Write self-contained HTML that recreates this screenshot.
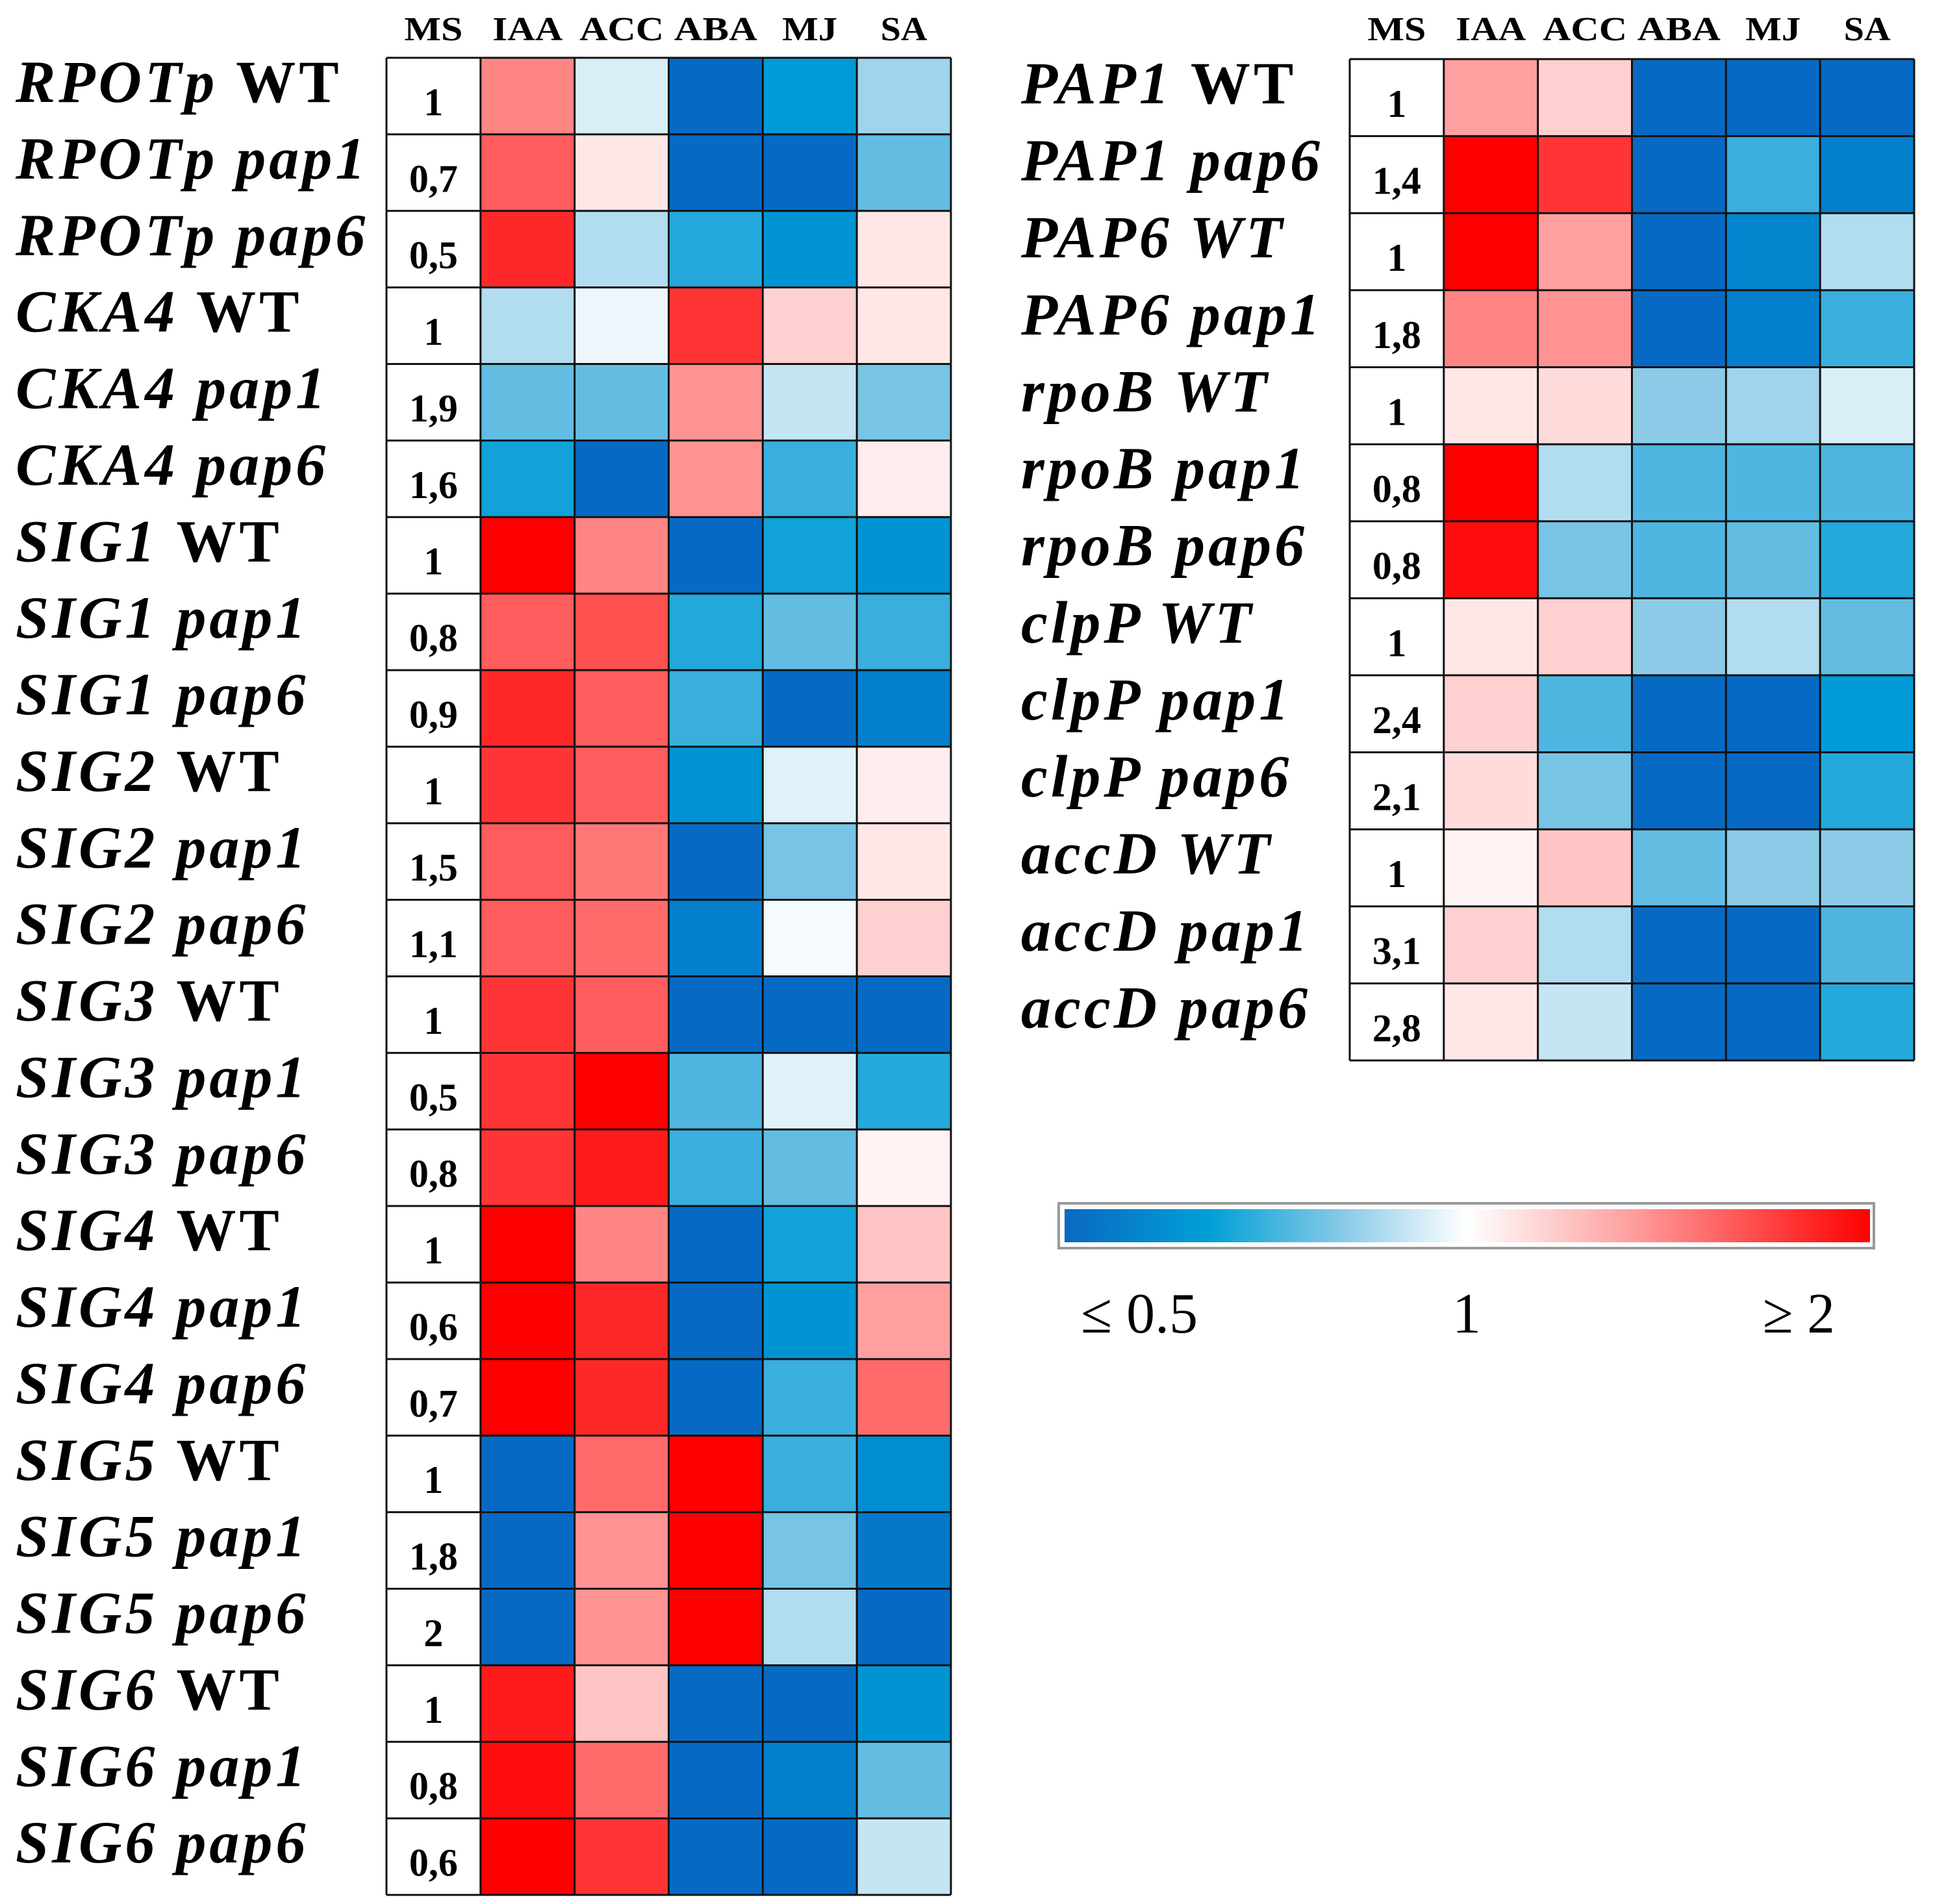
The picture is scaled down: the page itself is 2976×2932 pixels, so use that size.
<!DOCTYPE html>
<html><head><meta charset="utf-8"><style>
html,body{margin:0;padding:0;background:#fff;}
svg{display:block;}
.lab{font-family:"Liberation Serif",serif;font-weight:bold;font-size:92px;letter-spacing:5px;}
.hdr{font-family:"Liberation Serif",serif;font-weight:bold;font-size:52px;}
.ms{font-family:"Liberation Serif",serif;font-weight:bold;font-size:60px;}
.cb{font-family:"Liberation Serif",serif;font-size:88px;}
</style></head><body>
<svg id="chart" width="2976" height="2932" viewBox="0 0 2976 2932" xmlns="http://www.w3.org/2000/svg">
<defs>
<linearGradient id="cbgrad" x1="0" x2="1" y1="0" y2="0">
<stop offset="0" stop-color="#0a68c2"/>
<stop offset="0.18" stop-color="#00a0d6"/>
<stop offset="0.35" stop-color="#8ccbe8"/>
<stop offset="0.5" stop-color="#ffffff"/>
<stop offset="0.7" stop-color="#ffa0a0"/>
<stop offset="1" stop-color="#ff0000"/>
</linearGradient>
</defs>
<g id="g-left"></g>
<g id="g-right"></g>
<g id="colorbar">
<rect x="1630" y="1853" width="1255" height="69" fill="#fff" stroke="#999" stroke-width="4"/>
<rect x="1639" y="1862" width="1240" height="51" fill="url(#cbgrad)"/>
<text class="cb" x="1664" y="2052" textLength="180" lengthAdjust="spacingAndGlyphs">≤ 0.5</text>
<text class="cb" x="2258" y="2052" text-anchor="middle">1</text>
<text class="cb" x="2714" y="2052" textLength="111" lengthAdjust="spacingAndGlyphs">≥ 2</text>
</g>
</svg>
<script>
const columns = ["MS","IAA","ACC","ABA","MJ","SA"];
// left panel
const leftGenes = ["RPOTp","RPOTp","RPOTp","CKA4","CKA4","CKA4","SIG1","SIG1","SIG1","SIG2","SIG2","SIG2","SIG3","SIG3","SIG3","SIG4","SIG4","SIG4","SIG5","SIG5","SIG5","SIG6","SIG6","SIG6"];
const leftGeno = ["WT","pap1","pap6","WT","pap1","pap6","WT","pap1","pap6","WT","pap1","pap6","WT","pap1","pap6","WT","pap1","pap6","WT","pap1","pap6","WT","pap1","pap6"];
const leftMS = ["1","0,7","0,5","1","1,9","1,6","1","0,8","0,9","1","1,5","1,1","1","0,5","0,8","1","0,6","0,7","1","1,8","2","1","0,8","0,6"];
// log2 fold change relative to MS (clipped to [-1,1]); columns IAA, ACC, ABA, MJ, SA
const leftIAA = [0.5,0.65,0.85,-0.2,-0.4,-0.6,1,0.65,0.85,0.8,0.65,0.65,0.8,0.8,0.8,1,1,1,-1,-1,-1,0.9,0.95,1];
const leftACC = [-0.1,0.1,-0.2,-0.05,-0.4,-1,0.5,0.7,0.65,0.65,0.55,0.6,0.65,1,0.9,0.5,0.85,0.85,0.6,0.45,0.45,0.25,0.6,0.8];
const leftABA = [-1,-1,-0.55,0.8,0.45,0.45,-1,-0.55,-0.5,-0.7,-1,-0.85,-1,-0.45,-0.5,-1,-1,-1,1,1,1,-1,-1,-1];
const leftMJ = [-0.65,-1,-0.7,0.2,-0.15,-0.5,-0.6,-0.4,-1,-0.08,-0.35,-0.03,-1,-0.08,-0.4,-0.6,-0.7,-0.5,-0.5,-0.35,-0.2,-1,-0.85,-1];
const leftSA = [-0.25,-0.4,0.1,0.1,-0.35,0.08,-0.7,-0.5,-0.85,0.08,0.1,0.2,-1,-0.55,0.05,0.25,0.4,0.6,-0.75,-0.9,-1,-0.7,-0.4,-0.15];
const leftWTItalic = [false,false,false,false,false,false,false,false,false,false,false,false,false,false,false,false,false,false,false,false,false,false,false,false];
// right panel
const rightGenes = ["PAP1","PAP1","PAP6","PAP6","rpoB","rpoB","rpoB","clpP","clpP","clpP","accD","accD","accD"];
const rightGeno = ["WT","pap6","WT","pap1","WT","pap1","pap6","WT","pap1","pap6","WT","pap1","pap6"];
const rightMS = ["1","1,4","1","1,8","1","0,8","0,8","1","2,4","2,1","1","3,1","2,8"];
const rightIAA = [0.4,1,1,0.5,0.1,1,0.95,0.1,0.2,0.15,0.05,0.2,0.1];
const rightACC = [0.2,0.8,0.4,0.45,0.15,-0.2,-0.35,0.2,-0.45,-0.35,0.25,-0.2,-0.15];
const rightABA = [-1,-1,-1,-1,-0.3,-0.45,-0.45,-0.3,-1,-1,-0.4,-1,-1];
const rightMJ = [-1,-0.5,-0.8,-0.85,-0.25,-0.45,-0.4,-0.2,-1,-1,-0.3,-1,-1];
const rightSA = [-1,-0.85,-0.2,-0.5,-0.1,-0.45,-0.55,-0.4,-0.65,-0.55,-0.3,-0.45,-0.55];
const rightWTItalic = [false,false,true,true,true,true,true,true,true,true,true,true,true];

const NS = "http://www.w3.org/2000/svg";
const stops = [[-1,[6,106,196]],[-0.64,[0,156,214]],[-0.3,[140,203,232]],[0,[255,255,255]],[0.4,[255,160,160]],[1,[255,0,0]]];
function colorOf(v){
  v = Math.max(-1, Math.min(1, v));
  for (let i=0;i<stops.length-1;i++){
    const [a,ca]=stops[i],[b,cb]=stops[i+1];
    if (v<=b){const t=(v-a)/(b-a);
      return "rgb("+ca.map((c,k)=>Math.round(c+(cb[k]-c)*t)).join(",")+")";}
  }
  return "rgb(255,0,0)";
}
function mk(tag, attrs, parent){
  const e=document.createElementNS(NS,tag);
  for (const k in attrs) e.setAttribute(k, attrs[k]);
  parent.appendChild(e); return e;
}
function drawPanel(gid, geom, genes, geno, ms, series, wtItalic){
  const g=document.getElementById(gid);
  const n=genes.length;
  const cw=(geom.x1-geom.x0)/6, rh=(geom.y1-geom.y0)/n;
  const xAt=c=>geom.x0+c*cw, yAt=r=>geom.y0+r*rh;
  columns.forEach((c,i)=>{
    const t=mk("text",{class:"hdr",x:xAt(i)+cw/2,y:geom.hy,"text-anchor":"middle",textLength:geom.hw[i],lengthAdjust:"spacingAndGlyphs"},g);
    
    
    t.textContent=c;
  });
  for (let r=0;r<n;r++){
    const ms_=mk("rect",{x:xAt(0),y:yAt(r),width:cw,height:rh,fill:"#fff"},g);
    
    
    const mt=mk("text",{class:"ms",x:xAt(0)+cw/2,y:yAt(r)+rh*0.75,"text-anchor":"middle"},g);
    
    
    mt.textContent=ms[r];
    series.forEach((s,c)=>{
      const cell=mk("rect",{x:xAt(c+1),y:yAt(r),width:cw,height:rh,fill:colorOf(s[r])},g);
      
      
    });
    const lab=mk("text",{class:"lab",x:geom.lx,y:yAt(r)+68},g);
    
    
    const s1=mk("tspan",{"font-style":"italic"},lab); s1.textContent=genes[r]+" ";
    const it = geno[r]!=="WT" || wtItalic[r];
    const s2=mk("tspan",{"font-style":it?"italic":"normal"},lab); s2.textContent=geno[r];
  }
  for (let r=0;r<=n;r++) mk("line",{x1:geom.x0,x2:geom.x1,y1:yAt(r),y2:yAt(r),stroke:"#111","stroke-width":3},g);
  for (let c=0;c<=6;c++) mk("line",{x1:xAt(c),x2:xAt(c),y1:geom.y0,y2:geom.y1,stroke:"#111","stroke-width":3},g);
}
drawPanel("g-left",{x0:595,x1:1464,y0:89,y1:2918,hy:62,lx:24,hw:[90,108,130,128,85,72]},leftGenes,leftGeno,leftMS,[leftIAA,leftACC,leftABA,leftMJ,leftSA],leftWTItalic);
drawPanel("g-right",{x0:2078,x1:2947,y0:91,y1:1633,hy:62,lx:1572,hw:[90,108,130,128,85,72]},rightGenes,rightGeno,rightMS,[rightIAA,rightACC,rightABA,rightMJ,rightSA],rightWTItalic);
</script>
</body></html>
